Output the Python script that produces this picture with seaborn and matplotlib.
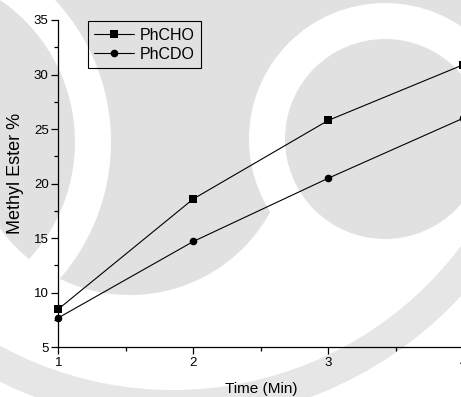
import matplotlib
matplotlib.use("Agg")
import matplotlib.pyplot as plt
from matplotlib.patches import Circle, Wedge, Rectangle
from matplotlib.ticker import MultipleLocator
import pandas as pd
import seaborn as sns

# Reaction time (min) and methyl ester yield (%) for each aldehyde
time_min = [1, 2, 3, 4]
phcho = [8.5, 18.6, 25.8, 30.9]
phcdo = [7.7, 14.7, 20.5, 26.0]
series_names = ["PhCHO", "PhCDO"]
x_ticks = [1, 2, 3, 4]
y_ticks = [5, 10, 15, 20, 25, 30, 35]

df = pd.DataFrame({
    "Time (Min)": time_min * 2,
    "Methyl Ester %": phcho + phcdo,
    "series": [series_names[0]] * len(time_min) + [series_names[1]] * len(time_min),
})

sns.set_theme(style="ticks")
plt.rcParams["font.family"] = ["Liberation Sans", "DejaVu Sans"]

W, H = 461, 397
fig = plt.figure(figsize=(W / 100, H / 100), dpi=100, facecolor="white")

# Background watermark shapes, laid out in pixel coordinates
bg = fig.add_axes([0, 0, 1, 1], zorder=0)
bg.set_xlim(0, W)
bg.set_ylim(H, 0)
bg.axis("off")
gray = "#e1e1e1"
bg.add_patch(Rectangle((0, 0), W, 140, color=gray, lw=0))
bg.add_patch(Circle((130, 135), 160, color=gray, lw=0))
bg.add_patch(Wedge((-97, 142), 208, 0, 360, width=36, color="white", lw=0))
bg.add_patch(Circle((385, 139), 136, color="white", lw=0))
bg.add_patch(Circle((385, 139), 100, color=gray, lw=0))
bg.add_patch(Wedge((173, 30), 392, 0, 360, width=32, color="#e6e6e6", lw=0))

ax = fig.add_axes([58.3 / W, 49.7 / H, 405 / W, 327.3 / H], zorder=1)
ax.set_facecolor("none")

sns.lineplot(
    data=df, x="Time (Min)", y="Methyl Ester %",
    hue="series", style="series",
    palette={"PhCHO": "black", "PhCDO": "black"},
    markers={"PhCHO": "s", "PhCDO": "o"}, dashes=False,
    markersize=5.5, markeredgewidth=0, linewidth=0.8,
    ax=ax, clip_on=False,
)

ax.set_xlim(1, 4)
ax.set_ylim(5, 35)
ax.set_xticks(x_ticks)
ax.set_xticklabels([str(t) for t in x_ticks])
ax.set_yticks(y_ticks)
ax.set_yticklabels([str(t) for t in y_ticks])
ax.xaxis.set_minor_locator(MultipleLocator(0.5))
ax.yaxis.set_minor_locator(MultipleLocator(2.5))
ax.tick_params(which="major", direction="out", length=5, width=0.9,
               labelsize=9.5, color="black", labelcolor="black", pad=2)
ax.tick_params(which="minor", direction="out", length=3, width=0.9, color="black")

for side in ("top", "right"):
    ax.spines[side].set_visible(False)
for side in ("left", "bottom"):
    ax.spines[side].set_color("black")
    ax.spines[side].set_linewidth(0.9)

ax.set_xlabel("Time (Min)", fontsize=11, color="black")
ax.set_ylabel("Methyl Ester %", fontsize=13, color="black")
ax.xaxis.set_label_coords(0.5, -0.105)
ax.yaxis.set_label_coords(-0.085, 0.53)

handles, labels = ax.get_legend_handles_labels()
leg = ax.legend(
    handles, labels, loc="upper left", bbox_to_anchor=(0.073, 0.996),
    frameon=True, fancybox=False, edgecolor="black",
    fontsize=11.5, handlelength=2.5, handletextpad=0.35, borderpad=0.4,
    labelspacing=0.25, borderaxespad=0,
)
frame = leg.get_frame()
frame.set_facecolor("none")
frame.set_edgecolor("black")
frame.set_alpha(None)
frame.set_linewidth(0.8)
for t in leg.get_texts():
    t.set_color("black")

fig.savefig("out.png", dpi=100, facecolor="white")
